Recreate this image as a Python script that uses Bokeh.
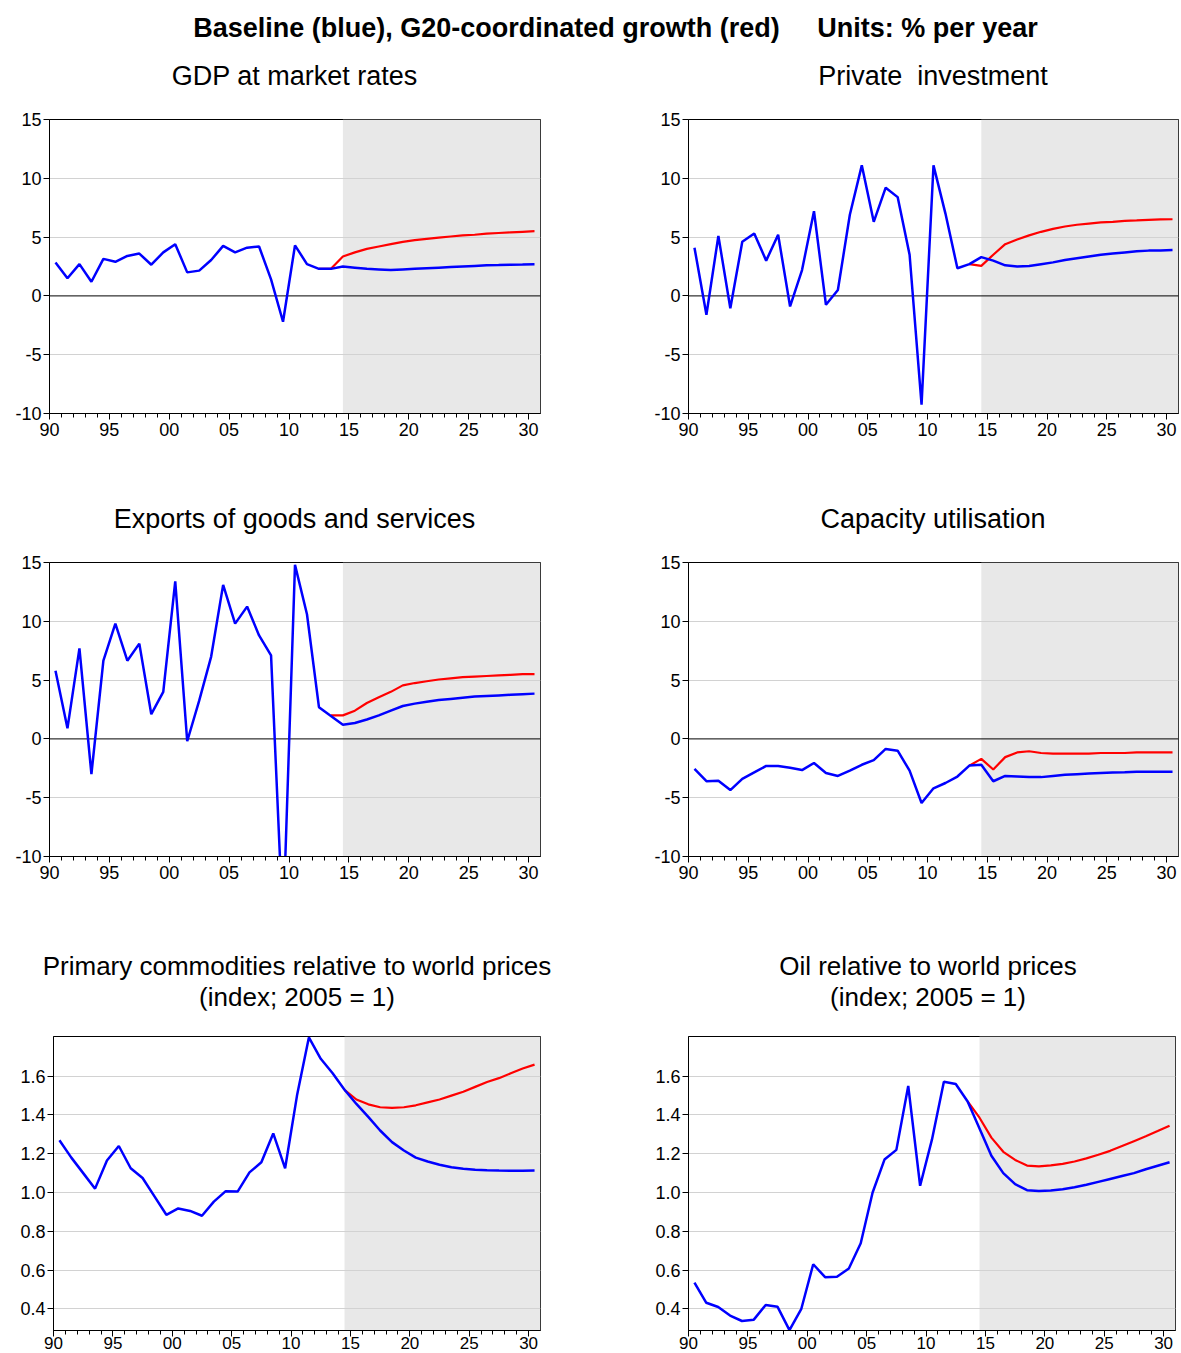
from bokeh.plotting import figure
from bokeh.models import Range1d, FixedTicker, BoxAnnotation, Span, Div
from bokeh.layouts import column, row
from bokeh.embed import file_html
from bokeh.resources import INLINE

FONT = "Liberation Sans"

years = list(range(1990, 2031))

main_title = "Baseline (blue), G20-coordinated growth (red)     Units: % per year"

# ---- GDP at market rates ----
gdp_blue = [2.85, 1.5, 2.7, 1.2, 3.15, 2.9, 3.4, 3.6, 2.65, 3.7,
            4.4, 2.0, 2.15, 3.05, 4.25, 3.7, 4.1, 4.2, 1.4, -2.2,
            4.3, 2.7, 2.3, 2.3, 2.5, 2.4, 2.3, 2.25, 2.2, 2.25,
            2.3, 2.35, 2.4, 2.45, 2.5, 2.55, 2.6, 2.62, 2.65, 2.67, 2.7]
gdp_red_years = list(range(2012, 2031))
gdp_red = [2.3, 2.3, 3.35, 3.7, 4.0, 4.2, 4.4, 4.6, 4.75, 4.85,
           4.95, 5.05, 5.15, 5.2, 5.3, 5.35, 5.4, 5.45, 5.5]

# ---- Private investment ----
inv_blue = [4.1, -1.6, 5.1, -1.05, 4.6, 5.3, 3.0, 5.2, -0.9, 2.2,
            7.2, -0.75, 0.5, 6.9, 11.1, 6.3, 9.2, 8.4, 3.5, -9.25,
            11.1, 7.0, 2.35, 2.7, 3.3, 3.0, 2.6, 2.5, 2.55, 2.7,
            2.85, 3.05, 3.2, 3.35, 3.5, 3.6, 3.7, 3.8, 3.85, 3.87, 3.9]
inv_red_years = list(range(2013, 2031))
inv_red = [2.7, 2.55, 3.5, 4.4, 4.8, 5.15, 5.45, 5.7, 5.9, 6.05,
           6.15, 6.25, 6.3, 6.38, 6.42, 6.47, 6.5, 6.52]

# ---- Exports of goods and services ----
exp_blue = [5.8, 0.9, 7.7, -3.0, 6.65, 9.8, 6.65, 8.1, 2.1, 4.0,
            13.4, -0.2, 3.25, 7.0, 13.1, 9.8, 11.25, 8.8, 7.1, -16.0,
            14.8, 10.6, 2.7, 1.95, 1.2, 1.35, 1.65, 2.0, 2.4, 2.8,
            3.0, 3.15, 3.3, 3.4, 3.5, 3.6, 3.65, 3.7, 3.75, 3.8, 3.85]
exp_red_years = list(range(2013, 2031))
exp_red = [2.0, 2.0, 2.4, 3.05, 3.55, 4.0, 4.55, 4.75, 4.9, 5.05,
           5.15, 5.25, 5.3, 5.35, 5.4, 5.45, 5.5, 5.5]

# ---- Capacity utilisation ----
cap_blue = [-2.55, -3.6, -3.55, -4.35, -3.4, -2.85, -2.3, -2.3, -2.45, -2.65,
            -2.05, -2.9, -3.15, -2.7, -2.2, -1.8, -0.85, -1.0, -2.7, -5.45,
            -4.2, -3.75, -3.2, -2.27, -2.2, -3.6, -3.15, -3.2, -3.25, -3.25,
            -3.15, -3.05, -3.0, -2.95, -2.9, -2.85, -2.83, -2.8, -2.8, -2.8, -2.8]
cap_red_years = list(range(2013, 2031))
cap_red = [-2.27, -1.7, -2.6, -1.55, -1.15, -1.05, -1.2, -1.25, -1.25, -1.25,
           -1.25, -1.2, -1.2, -1.2, -1.15, -1.15, -1.15, -1.15]

# ---- Primary commodities relative to world prices ----
com_blue = [1.27, 1.18, 1.10, 1.02, 1.165, 1.24, 1.125, 1.075, 0.98, 0.885,
            0.918, 0.905, 0.88, 0.953, 1.007, 1.005, 1.104, 1.156, 1.305, 1.125,
            1.50, 1.80, 1.69, 1.615, 1.53, 1.457, 1.39, 1.32, 1.26, 1.217,
            1.18, 1.16, 1.143, 1.13, 1.123, 1.118, 1.115, 1.113, 1.112, 1.112, 1.113]
com_red_years = list(range(2014, 2031))
com_red = [1.53, 1.48, 1.455, 1.44, 1.437, 1.44, 1.45, 1.465, 1.48, 1.50,
           1.52, 1.545, 1.57, 1.59, 1.615, 1.64, 1.66]

# ---- Oil relative to world prices ----
oil_blue = [0.535, 0.431, 0.409, 0.365, 0.337, 0.344, 0.42, 0.41, 0.29, 0.40,
            0.63, 0.563, 0.565, 0.608, 0.738, 1.0, 1.17, 1.22, 1.55, 1.035,
            1.274, 1.572, 1.56, 1.47, 1.33, 1.19, 1.1, 1.043, 1.012, 1.008,
            1.01, 1.017, 1.027, 1.04, 1.055, 1.07, 1.085, 1.10, 1.12, 1.138, 1.156]
oil_red_years = list(range(2013, 2031))
oil_red = [1.47, 1.386, 1.283, 1.21, 1.168, 1.139, 1.135, 1.14, 1.148, 1.16,
           1.176, 1.195, 1.215, 1.24, 1.265, 1.29, 1.317, 1.345]

x_major = [1990, 1995, 2000, 2005, 2010, 2015, 2020, 2025, 2030]
x_labels = ["90", "95", "00", "05", "10", "15", "20", "25", "30"]
pct_ticks = [-10, -5, 0, 5, 10, 15]
pct_labels = ["-10", "-5", "0", "5", "10", "15"]
idx_ticks = [0.4, 0.6, 0.8, 1.0, 1.2, 1.4, 1.6]
idx_labels = ["0.4", "0.6", "0.8", "1.0", "1.2", "1.4", "1.6"]


def make_panel(blue, red_years, red, yrange, yticks, ylabels, grid_ticks, zero,
               width, height, bl, br, bt, bb, xfont="18px", xstand=3):
    p = figure(width=width, height=height, x_range=Range1d(1990, 2031),
               y_range=Range1d(*yrange), output_backend="svg",
               toolbar_location=None, title=None,
               min_border_left=bl, min_border_right=br,
               min_border_top=bt, min_border_bottom=bb)
    p.background_fill_color = "white"
    p.border_fill_color = "white"
    p.outline_line_color = "black"
    p.outline_line_width = 1
    p.outline_line_alpha = 1

    p.add_layout(BoxAnnotation(left=2014.5, right=2031, fill_color="#E8E8E8",
                               fill_alpha=1, line_alpha=0, level="image"))

    p.xgrid.visible = False
    p.ygrid.ticker = FixedTicker(ticks=grid_ticks)
    p.ygrid.grid_line_color = "#D2D2D2"
    p.ygrid.grid_line_width = 1

    if zero:
        p.add_layout(Span(location=0, dimension="width", line_color="black",
                          line_width=1, level="underlay"))

    xa = p.xaxis[0]
    xa.ticker = FixedTicker(ticks=x_major, minor_ticks=years)
    xa.major_label_overrides = {k: v for k, v in zip(x_major, x_labels)}
    xa.major_tick_out = 6
    xa.major_tick_in = 0
    xa.minor_tick_out = 4
    xa.minor_tick_in = 0
    xa.axis_line_color = "black"
    xa.major_tick_line_color = "black"
    xa.minor_tick_line_color = "black"
    xa.major_label_text_font = FONT
    xa.major_label_text_font_size = xfont
    xa.major_label_text_color = "black"
    xa.major_label_standoff = xstand

    ya = p.yaxis[0]
    ya.ticker = FixedTicker(ticks=yticks)
    ya.major_label_overrides = {k: v for k, v in zip(yticks, ylabels)}
    ya.major_tick_out = 6
    ya.major_tick_in = 0
    ya.minor_tick_out = 0
    ya.minor_tick_in = 0
    ya.axis_line_color = "black"
    ya.major_tick_line_color = "black"
    ya.major_label_text_font = FONT
    ya.major_label_text_font_size = "18px"
    ya.major_label_text_color = "black"
    ya.major_label_standoff = 2

    xb = [y + 0.5 for y in years]
    xr = [y + 0.5 for y in red_years]
    p.line(xr, red, line_color="#FF0000", line_width=2.2)
    p.line(xb, blue, line_color="#0000FF", line_width=2.5)
    return p


def title_div(lines, width, centre, height, pad_top, size=27):
    box = int(2 * centre)
    html = ('<div style="font: %dpx \'Liberation Sans\', Arial, sans-serif; color:#000; '
            'text-align:center; white-space:pre; line-height:31px; '
            'width:%dpx; padding-top:%dpx;">%s</div>'
            % (size, box, pad_top, "<br>".join(lines)))
    return Div(text=html, width=width, height=height, margin=(0, 0, 0, 0))


pct_grid = [-5, 5, 10]
idx_grid = idx_ticks

head = Div(text=('<div style="font: bold 27px \'Liberation Sans\', Arial, sans-serif; '
                 'color:#000; text-align:center; width:1181px; position:relative; left:25px; '
                 'padding-top:13px; line-height:30px; white-space:pre;">'
                 + main_title + '</div>'),
           width=1181, height=50, margin=(0, 0, 0, 0))

# row 1 titles: y 50..100 (centre 77)
t1 = title_div(["GDP at market rates"], 640, 294.5, 50, 11)
t2 = title_div(["Private  investment"], 541, 293, 50, 11)
# row 1 plots: y 100..490, frame 119..413
p1 = make_panel(gdp_blue, gdp_red_years, gdp_red,
                (-10, 15), pct_ticks, pct_labels, pct_grid, True, 640, 390, 49, 100, 19, 77)
p2 = make_panel(inv_blue, inv_red_years, inv_red,
                (-10, 15), pct_ticks, pct_labels, pct_grid, True, 541, 390, 48, 3, 19, 77)
# row 2 titles: y 490..540 (centre 520)
t3 = title_div(["Exports of goods and services"], 640, 294.5, 50, 14)
t4 = title_div(["Capacity utilisation"], 541, 293, 50, 14)
# row 2 plots: y 540..930, frame 562..856
p3 = make_panel(exp_blue, exp_red_years, exp_red,
                (-10, 15), pct_ticks, pct_labels, pct_grid, True, 640, 390, 49, 100, 22, 74)
p4 = make_panel(cap_blue, cap_red_years, cap_red,
                (-10, 15), pct_ticks, pct_labels, pct_grid, True, 541, 390, 48, 3, 22, 74)
# row 3 titles: y 930..1010 (centres 967, 998)
t5 = title_div(["Primary commodities relative to world prices", "(index; 2005 = 1)"],
               640, 297, 80, 21, size=26)
t6 = title_div(["Oil relative to world prices", "(index; 2005 = 1)"],
               541, 288, 80, 21, size=26)
# row 3 plots: y 1010..1353, frame 1036..1330
p5 = make_panel(com_blue, com_red_years, com_red,
                (0.288, 1.805), idx_ticks, idx_labels, idx_grid, False, 640, 343, 53, 100, 26, 23,
                xfont="17px", xstand=0)
p6 = make_panel(oil_blue, oil_red_years, oil_red,
                (0.288, 1.805), idx_ticks, idx_labels, idx_grid, False, 541, 343, 48, 6, 26, 23,
                xfont="17px", xstand=0)

layout = column(head,
                row(t1, t2, spacing=0), row(p1, p2, spacing=0),
                row(t3, t4, spacing=0), row(p3, p4, spacing=0),
                row(t5, t6, spacing=0), row(p5, p6, spacing=0),
                spacing=0)

open("out.html", "w").write(file_html(layout, INLINE))
